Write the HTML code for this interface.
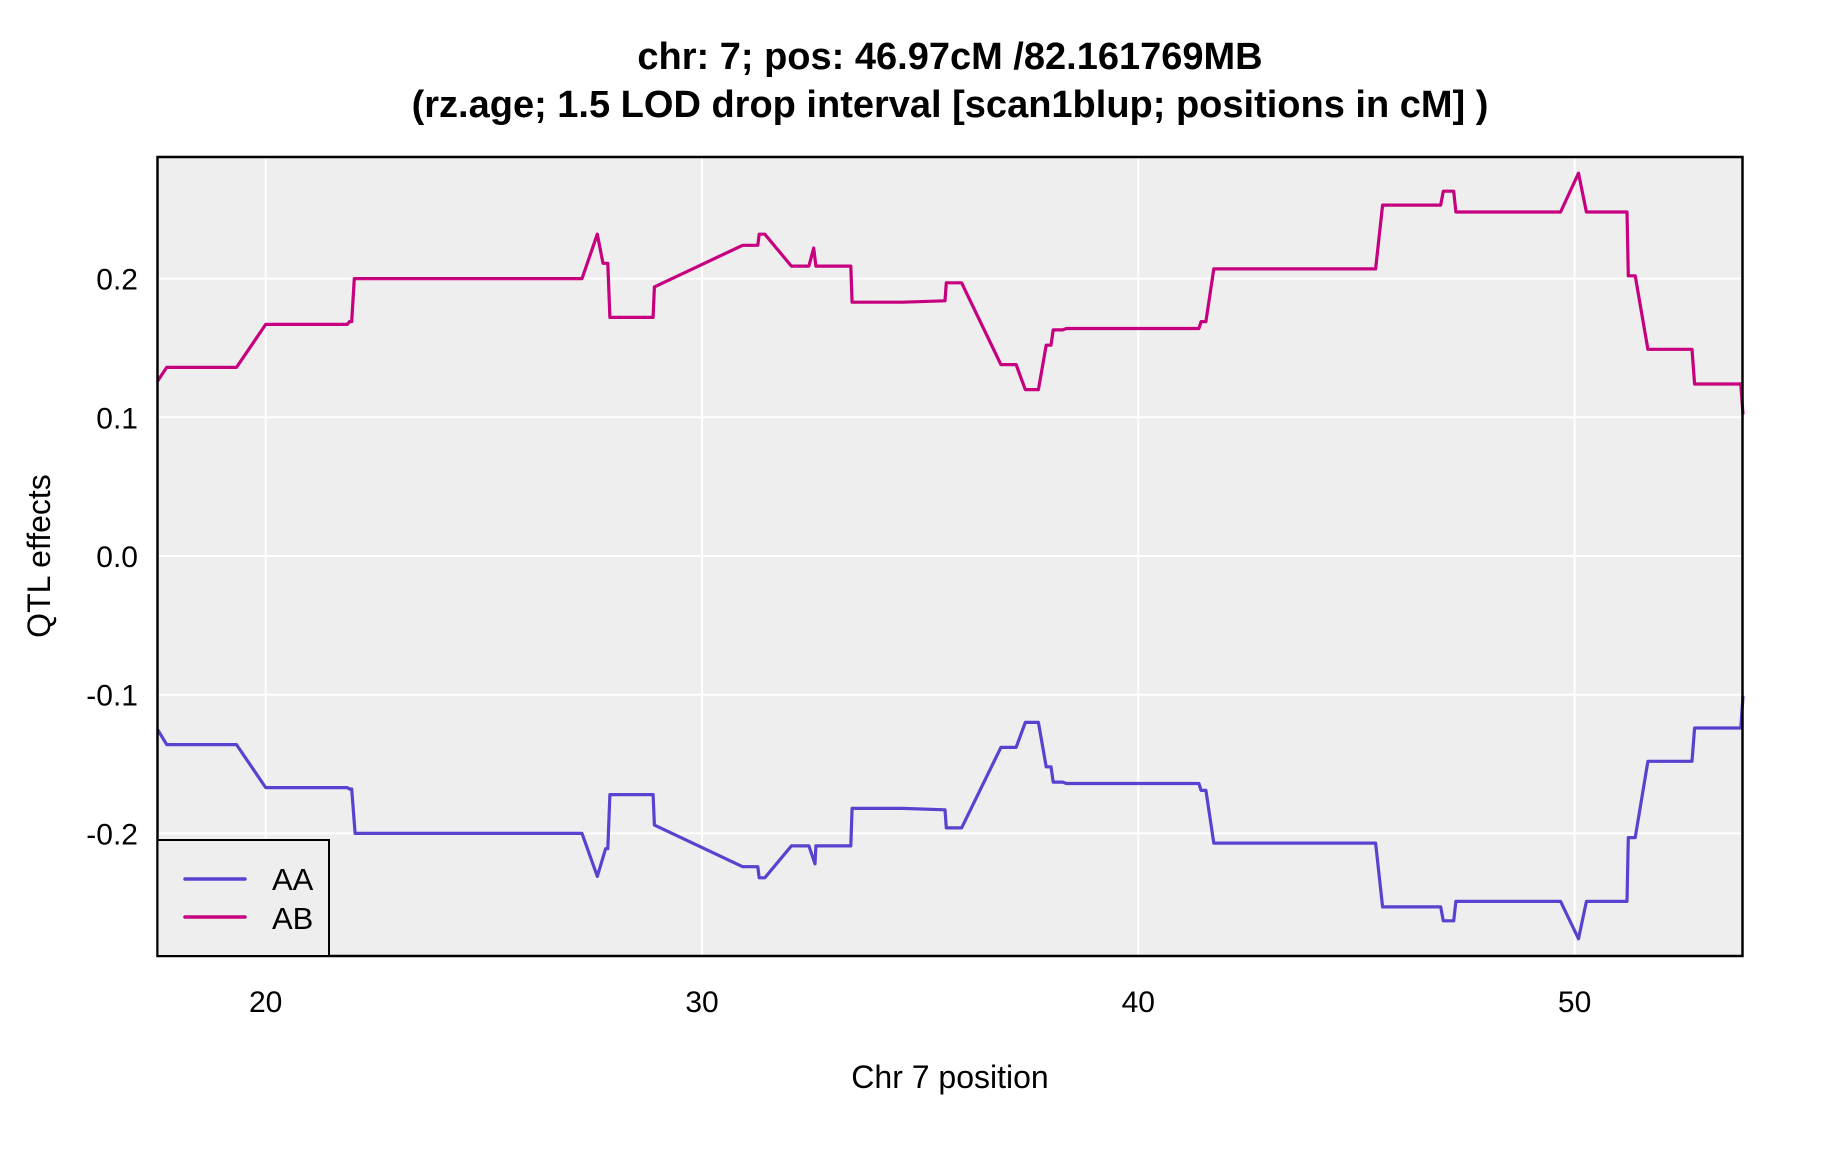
<!DOCTYPE html>
<html><head><meta charset="utf-8"><style>
body{margin:0;background:#fff;}
svg text{font-family:"Liberation Sans",sans-serif;fill:#000;}
</style></head><body>
<svg id="chart" width="1824" height="1152" viewBox="0 0 1824 1152" xmlns="http://www.w3.org/2000/svg">
<text x="950" y="69" text-anchor="middle" font-size="38" font-weight="bold">chr: 7; pos: 46.97cM /82.161769MB</text>
<text x="950" y="117" text-anchor="middle" font-size="38" font-weight="bold">(rz.age; 1.5 LOD drop interval [scan1blup; positions in cM] )</text>
<rect x="157.5" y="157" width="1585" height="799" fill="#eeeeee"/>
<g id="grid"></g>
<g id="series"></g>
<rect x="157.5" y="157" width="1585" height="799" fill="none" stroke="#000" stroke-width="2.5"/>
<g id="xticks"></g>
<g id="yticks"></g>
<text x="950" y="1088" text-anchor="middle" font-size="32">Chr 7 position</text>
<text transform="translate(50,556) rotate(-90)" text-anchor="middle" font-size="32">QTL effects</text>
<g>
<rect x="157.5" y="840" width="171.5" height="116" fill="#eeeeee" stroke="#000" stroke-width="2"/>
<line x1="185" y1="879" x2="245" y2="879" stroke="#5b41cf" stroke-width="3.5" stroke-linecap="round"/>
<text x="272" y="890" font-size="31">AA</text>
<line x1="185" y1="917" x2="245" y2="917" stroke="#c6007f" stroke-width="3.5" stroke-linecap="round"/>
<text x="272" y="929" font-size="31">AB</text>
</g>
</svg>
<script>
const xTicks=[20,30,40,50];
const yTicks=[-0.2,-0.1,0.0,0.1,0.2];
const yTickLabels=["-0.2","-0.1","0.0","0.1","0.2"];
const abX=[17.52,17.73,19.33,20,21.87,21.92,21.97,22.03,27.25,27.6,27.73,27.84,27.89,28.88,28.91,30.93,31.28,31.31,31.44,32.05,32.45,32.56,32.61,33.41,33.44,34.59,35.57,35.6,35.95,36.85,37.2,37.41,37.71,37.89,38.0,38.05,38.27,38.35,41.39,41.44,41.55,41.73,45.44,45.6,46.93,46.99,47.23,47.28,49.68,50.09,50.27,51.2,51.23,51.39,51.68,52.69,52.75,53.81,53.86];
const abY=[0.126,0.136,0.136,0.167,0.167,0.169,0.169,0.200,0.200,0.232,0.211,0.211,0.172,0.172,0.194,0.224,0.224,0.232,0.232,0.209,0.209,0.222,0.209,0.209,0.183,0.183,0.184,0.197,0.197,0.138,0.138,0.120,0.120,0.152,0.152,0.163,0.163,0.164,0.164,0.169,0.169,0.207,0.207,0.253,0.253,0.263,0.263,0.248,0.248,0.276,0.248,0.248,0.202,0.202,0.149,0.149,0.124,0.124,0.102];
const aaX=[17.52,17.73,19.33,20,21.87,21.92,21.97,22.05,27.25,27.6,27.79,27.84,27.89,28.88,28.91,30.93,31.28,31.31,31.44,32.05,32.45,32.59,32.61,33.41,33.44,34.59,35.57,35.6,35.95,36.85,37.2,37.41,37.71,37.89,38.0,38.05,38.27,38.35,41.39,41.44,41.55,41.73,45.44,45.6,46.93,46.99,47.23,47.28,49.68,50.09,50.27,51.2,51.23,51.39,51.68,52.69,52.75,53.81,53.86];
const aaY=[-0.125,-0.136,-0.136,-0.167,-0.167,-0.168,-0.168,-0.200,-0.200,-0.231,-0.211,-0.211,-0.172,-0.172,-0.194,-0.224,-0.224,-0.232,-0.232,-0.209,-0.209,-0.222,-0.209,-0.209,-0.182,-0.182,-0.183,-0.196,-0.196,-0.138,-0.138,-0.120,-0.120,-0.152,-0.152,-0.163,-0.163,-0.164,-0.164,-0.169,-0.169,-0.207,-0.207,-0.253,-0.253,-0.263,-0.263,-0.249,-0.249,-0.276,-0.249,-0.249,-0.203,-0.203,-0.148,-0.148,-0.124,-0.124,-0.101];

const NS="http://www.w3.org/2000/svg";
const X0=157.5,X1=1742.5,Y0=157,Y1=956;
function xs(v){return 265.7+(v-20)*43.63;}
function ys(v){return 556-v*1387;}
const grid=document.getElementById('grid');
xTicks.forEach(t=>{
  const l=document.createElementNS(NS,'line');
  
  
  l.setAttribute('x1',xs(t));l.setAttribute('x2',xs(t));l.setAttribute('y1',Y0);l.setAttribute('y2',Y1);
  l.setAttribute('stroke','#fff');l.setAttribute('stroke-width','2');
  grid.appendChild(l);
  const tx=document.createElementNS(NS,'text');
  
  
  tx.setAttribute('x',xs(t));tx.setAttribute('y',1012);tx.setAttribute('text-anchor','middle');tx.setAttribute('font-size','30');
  tx.textContent=t;
  document.getElementById('xticks').appendChild(tx);
});
yTicks.forEach((t,i)=>{
  const l=document.createElementNS(NS,'line');
  
  
  l.setAttribute('x1',X0);l.setAttribute('x2',X1);l.setAttribute('y1',ys(t));l.setAttribute('y2',ys(t));
  l.setAttribute('stroke','#fff');l.setAttribute('stroke-width','2');
  grid.appendChild(l);
  const tx=document.createElementNS(NS,'text');
  
  
  tx.setAttribute('x',138);tx.setAttribute('y',ys(t)+11);tx.setAttribute('text-anchor','end');tx.setAttribute('font-size','30');
  tx.textContent=yTickLabels[i];
  document.getElementById('yticks').appendChild(tx);
});
function drawLine(xv,yv,color,name){
  const p=document.createElementNS(NS,'polyline');
  
  
  p.setAttribute('points',xv.map((x,i)=>xs(x).toFixed(1)+','+ys(yv[i]).toFixed(1)).join(' '));
  p.setAttribute('fill','none');p.setAttribute('stroke',color);p.setAttribute('stroke-width','3.2');
  p.setAttribute('stroke-linejoin','round');
  document.getElementById('series').appendChild(p);
}
drawLine(aaX,aaY,'#5b41cf','line-aa');
drawLine(abX,abY,'#c6007f','line-ab');
</script>
</body></html>
